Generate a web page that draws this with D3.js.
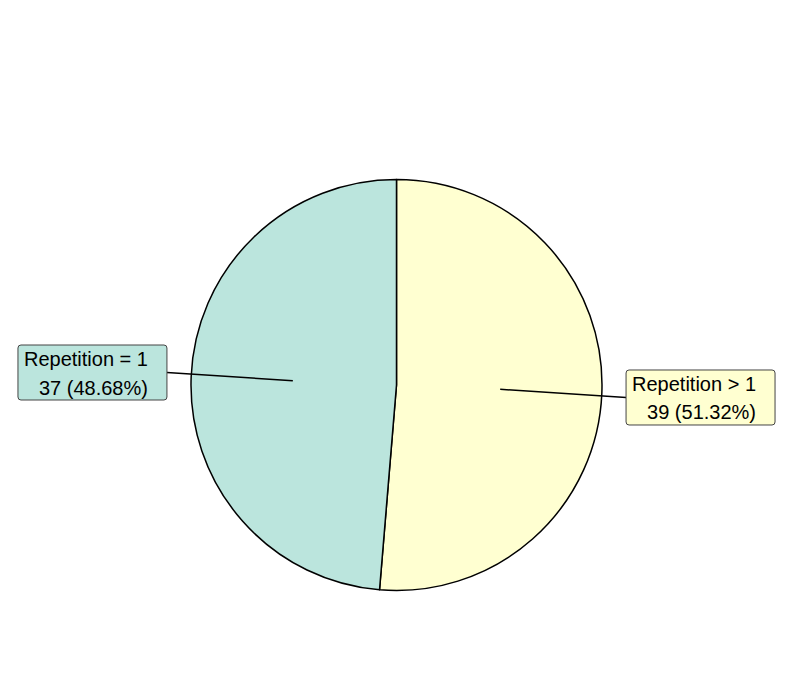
<!DOCTYPE html>
<html>
<head>
<meta charset="utf-8">
<script src="https://cdn.jsdelivr.net/npm/d3@7"></script>
<style>
  html, body { margin: 0; padding: 0; background: #ffffff; }
  svg { display: block; }
</style>
</head>
<body>
<svg id="chart" width="793" height="680"></svg>
<script>
const categories = ["Repetition > 1", "Repetition = 1"];
const values = [39, 37];
const colors = ["#ffffd1", "#bbe5dd"];

const W = 793, H = 680;
const cx = 396.5, cy = 385, r = 205.5;
const total = d3.sum(values);

const svg = d3.select("#chart");
const g = svg.append("g").attr("transform", `translate(${cx},${cy})`);

const pie = d3.pie().sort(null).value(d => d.value);
const arcs = pie(categories.map((c, i) => ({ name: c, value: values[i], color: colors[i] })));
const arc = d3.arc().innerRadius(0).outerRadius(r);

g.selectAll("path.slice")
  .data(arcs)
  .enter().append("path")
  .attr("class", "slice")
  .attr("d", arc)
  .attr("fill", d => d.data.color)
  .attr("stroke", "#000")
  .attr("stroke-width", 1.5)
  .attr("stroke-linejoin", "round");

const fmt = d3.format(".2f");
arcs.forEach(d => {
  const mid = (d.startAngle + d.endAngle) / 2;
  const sx = Math.sin(mid), sy = -Math.cos(mid);
  const inner = [0.505 * r * sx, 0.505 * r * sy];
  const side = sx >= 0 ? 1 : -1;
  const outer = [1.118 * r * sx, 1.118 * r * sy + (sy >= 0 ? 3 : -3)];

  g.append("line")
    .attr("x1", inner[0]).attr("y1", inner[1])
    .attr("x2", outer[0]).attr("y2", outer[1])
    .attr("stroke", "#000").attr("stroke-width", 1.6);

  const lg = g.append("g");
  const line1 = d.data.name;
  const line2 = `${d.data.value} (${fmt(d.data.value / total * 100)}%)`;
  const rect = lg.append("rect");
  const t1 = lg.append("text").text(line1);
  const t2 = lg.append("text").text(line2);
  [t1, t2].forEach(t => t
    .attr("font-family", "'Liberation Sans', Arial, Helvetica, sans-serif")
    .attr("font-size", 20)
    .attr("fill", "#000")
    .attr("text-anchor", "end"));
  const tw = Math.max(t1.node().getComputedTextLength(), t2.node().getComputedTextLength());
  const padL = 6, padR = 19, bh = 55;
  const bw = tw + padL + padR;
  const bx = side > 0 ? outer[0] : outer[0] - bw;
  const by = outer[1] - bh / 2;
  rect.attr("x", bx).attr("y", by).attr("width", bw).attr("height", bh)
    .attr("rx", 3).attr("ry", 3)
    .attr("fill", d.data.color)
    .attr("stroke", "#444").attr("stroke-width", 1);
  t1.attr("x", bx + bw - padR).attr("y", by + 20.5);
  t2.attr("x", bx + bw - padR).attr("y", by + 49.5);
});
</script>
</body>
</html>
